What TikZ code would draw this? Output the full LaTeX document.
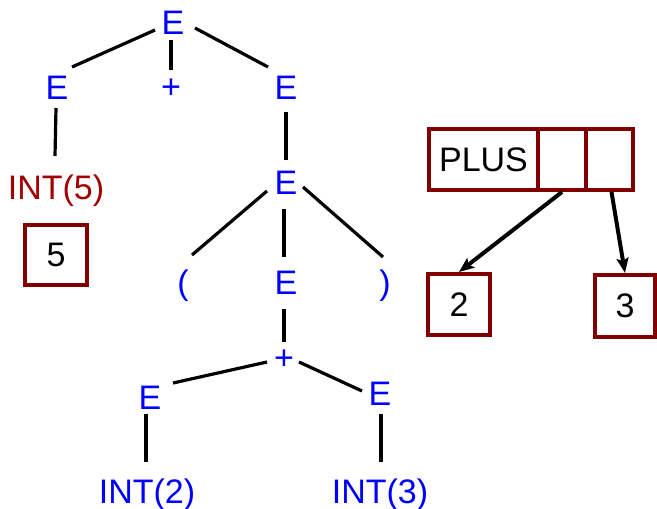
\documentclass[tikz,border=0pt]{standalone}
\usepackage{fontspec}
\setmainfont{Liberation Sans}
\usetikzlibrary{arrows.meta}
\definecolor{treeblue}{RGB}{0,0,255}
\definecolor{intred}{RGB}{160,0,0}
\definecolor{boxred}{RGB}{128,0,0}
\begin{document}
\begin{tikzpicture}[x=1pt,y=-1pt,
  tnode/.style={font=\fontsize{34}{40}\selectfont, inner sep=0pt, text height=24pt, text depth=0pt, text=treeblue},
  conn/.style={line width=3.2pt},
  cell/.style={draw=boxred, line width=4pt, inner sep=0pt, minimum height=61pt, font=\fontsize{34}{40}\selectfont, text=black},
  ptr/.style={line width=4pt, -{Stealth[length=15pt,width=12pt,inset=3pt]}}]
\useasboundingbox (0,0) rectangle (657,509);
% tree nodes
\node[tnode] (tE) at (173,22) {E};
\node[tnode] (lE) at (57,87) {E};
\node[tnode] (p1) at (171,86) {+};
\node[tnode] (rE) at (286,87) {E};
\node[tnode, text=intred] (int5) at (56,187) {INT(5)};
\node[tnode] (mE) at (286,182) {E};
\node[tnode] (lp) at (183,282) {(};
\node[tnode] (iE) at (286,282) {E};
\node[tnode] (rp) at (385,282) {)};
\node[tnode] (p2) at (284,357) {+};
\node[tnode] (llE) at (150,397) {E};
\node[tnode] (lrE) at (380,393) {E};
\node[tnode] (int2) at (147,491) {INT(2)};
\node[tnode] (int3) at (380,491) {INT(3)};
% connectors
\draw[conn] ([shift={(-18,8)}]tE.center) -- ([shift={(15,-20)}]lE.center);
\draw[conn] ([shift={(-2,18)}]tE.center) -- ([shift={(0,-16)}]p1.center);
\draw[conn] ([shift={(22,6)}]tE.center) -- ([shift={(-18,-20)}]rE.center);
\draw[conn] ([shift={(-1,21)}]lE.center) -- ([shift={(-1,-31)}]int5.center);
\draw[conn] ([shift={(0,25)}]rE.center) -- ([shift={(0,-22)}]mE.center);
\draw[conn] ([shift={(-19,9)}]mE.center) -- ([shift={(9,-27)}]lp.center);
\draw[conn] ([shift={(-2,27)}]mE.center) -- ([shift={(-2,-25)}]iE.center);
\draw[conn] ([shift={(17,5)}]mE.center) -- ([shift={(-2,-25)}]rp.center);
\draw[conn] ([shift={(-2,27)}]iE.center) -- ([shift={(0,-15)}]p2.center);
\draw[conn] ([shift={(-17,5)}]p2.center) -- ([shift={(23,-14)}]llE.center);
\draw[conn] ([shift={(15,5)}]p2.center) -- ([shift={(-18,-2)}]lrE.center);
\draw[conn] ([shift={(-4,17)}]llE.center) -- ([shift={(-1,-29)}]int2.center);
\draw[conn] ([shift={(1,21)}]lrE.center) -- ([shift={(1,-29)}]int3.center);
% boxes
\node[cell, minimum width=62pt, minimum height=60pt] (b5) at (56,255) {5};
\node[cell, minimum width=109pt] (plus) at (483.5,159.5) {PLUS};
\node[cell, minimum width=48pt] (c1) at (562,159.5) {};
\node[cell, minimum width=47pt] (c2) at (609.5,159.5) {};
\node[cell, minimum width=62pt] (b2) at (459,304.5) {2};
\node[cell, minimum width=60pt, minimum height=62pt] (b3) at (625,306) {3};
\draw[ptr] (c1.south) -- (b2.north);
\draw[ptr] ([xshift=2pt]c2.south) -- (b3.north);
\end{tikzpicture}
\end{document}
